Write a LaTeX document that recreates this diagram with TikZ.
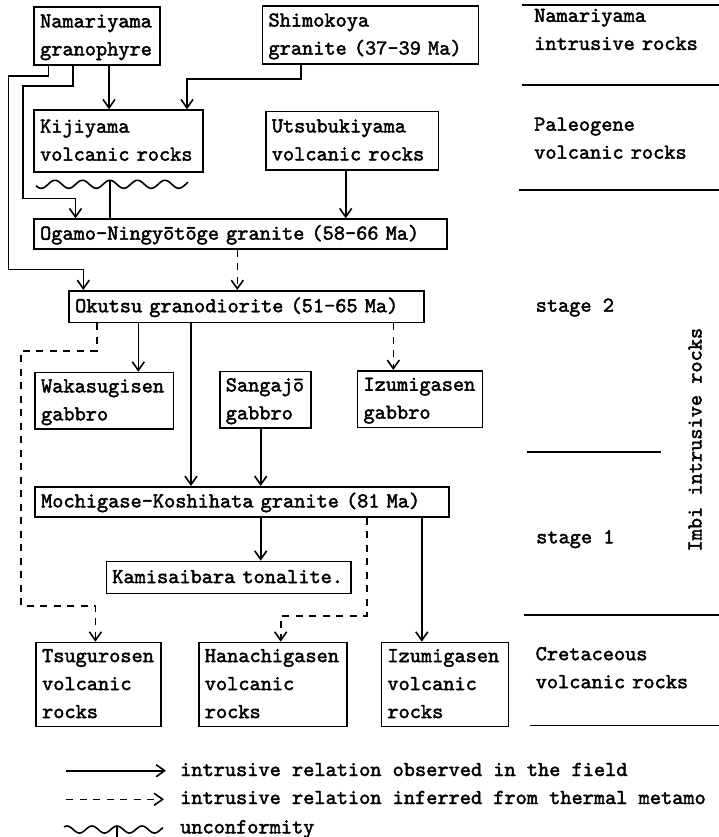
\documentclass[tikz,border=0pt]{standalone}
\usepackage{fontspec}
\usetikzlibrary{arrows.meta}
\newfontfamily\tw{lmmono10-regular.otf}[FakeBold=2]
\newcommand\R[1]{\mbox{\strut#1}}
\begin{document}
\begin{tikzpicture}[x=1pt,y=-1pt,
  font=\tw\fontsize{21.3pt}{28pt}\selectfont,
  bx/.style={draw, line width=1.6pt, anchor=north west, inner xsep=6pt, inner ysep=0pt, align=left},
  ln/.style={line width=1.6pt},
  arr/.style={line width=1.6pt, -{Straight Barb[length=8.5pt,width=12pt,line width=1.6pt]}},
  dsh/.style={arr, dash pattern=on 7pt off 6.5pt},
  lbl/.style={anchor=north west, inner sep=0pt, align=left, text width=200pt},
  txt/.style={anchor=base west, inner sep=0pt}]
\useasboundingbox (0,0) rectangle (719,837);

% boxes
\node[bx, minimum height=58pt, text width=114pt] (nam) at (33.3,6) {\R{Namariyama}\\\R{granophyre}};
\node[bx, minimum height=58.3pt, text width=204pt] (shi) at (261.7,5) {\R{Shimokoya}\\\R{granite (37-39 Ma)}};
\node[bx, minimum height=62pt, text width=157pt] (kij) at (33.3,109.3) {\R{Kijiyama}\\\R{volcanic rocks}};
\node[bx, minimum height=58.6pt, text width=160.7pt] (uts) at (265,110.7) {\R{Utsubukiyama}\\\R{volcanic rocks}};
\node[bx, minimum height=30pt, text width=400.7pt] (oga) at (33.3,218.3) {\R{Ogamo-Ningyōtōge granite (58-66 Ma)}};
\node[bx, minimum height=31.7pt, text width=343pt] (oku) at (68.3,290) {\R{Okutsu granodiorite (51-65 Ma)}};
\node[bx, minimum height=56.6pt, text width=126.4pt] (wak) at (34.3,371.7) {\R{Wakasugisen}\\\R{gabbro}};
\node[bx, minimum height=56.6pt, text width=79pt] (san) at (219,370.7) {\R{Sangajō}\\\R{gabbro}};
\node[bx, minimum height=56.7pt, text width=113pt] (izg) at (356.7,370) {\R{Izumigasen}\\\R{gabbro}};
\node[bx, minimum height=30pt, text width=402pt] (moc) at (34.3,486) {\R{Mochigase-Koshihata granite (81 Ma)}};
\node[bx, minimum height=32pt, text width=232.5pt] (kam) at (105.5,560.7) {\R{Kamisaibara tonalite.}};
\node[bx, minimum height=84pt, text width=112.7pt] (tsu) at (35.3,641.7) {\R{Tsugurosen}\\\R{volcanic}\\\R{rocks}};
\node[bx, minimum height=84pt, text width=136.3pt] (han) at (198,641.7) {\R{Hanachigasen}\\\R{volcanic}\\\R{rocks}};
\node[bx, minimum height=84pt, text width=115pt] (izv) at (380.6,641.7) {\R{Izumigasen}\\\R{volcanic}\\\R{rocks}};

% unconformity
\draw[ln] plot[domain=36:188, samples=150, smooth] (\x,{184.3-4*cos((\x-110)/27.5*360)});
\coordinate (unc) at (110,180.3);
\draw[ln] (unc) -- (oga.north -| unc);

% connectors
\draw[arr] (nam.south -| 109,0) -- (kij.north -| 109,0);
\draw[arr] (shi.south -| 301,0) |- (187,79) -- (kij.north -| 187,0);
\draw[arr] (nam.south -| 48.3,0) |- (8.3,76) |- (83.3,269.3) -- (oku.north -| 83.3,0);
\draw[arr] (nam.south -| 72.7,0) |- (22.7,86) |- (75.5,198.5) -- (oga.north -| 75.5,0);
\draw[arr] (uts.south -| 345.7,0) -- (oga.north -| 345.7,0);
\draw[dsh] (oga.south -| 237.3,0) -- (oku.north -| 237.3,0);
\draw[arr] (oku.south -| 138.3,0) -- (wak.north -| 138.3,0);
\draw[arr] (oku.south -| 191,0) -- (moc.north -| 191,0);
\draw[dsh] (oku.south -| 393.3,0) -- (izg.north -| 393.3,0);
\draw[dsh] (oku.south -| 96.7,0) |- (20.7,351) |- (95.4,605.7) -- (tsu.north -| 95.4,0);
\draw[arr] (san.south -| 260.7,0) -- (moc.north -| 260.7,0);
\draw[arr] (moc.south -| 260.7,0) -- (kam.north -| 260.7,0);
\draw[dsh] (moc.south -| 366.7,0) |- (280.7,615.7) -- (han.north -| 280.7,0);
\draw[arr] (moc.south -| 421.8,0) -- (izv.north -| 421.8,0);

% right column
\draw[ln] (521.7,5) -- (719,5);
\draw[ln] (521.7,85) -- (719,85);
\draw[ln] (519,190) -- (719,190);
\draw[ln] (526.7,452) -- (661,452);
\draw[ln] (523.5,615) -- (719,615);
\draw[ln] (530,725.5) -- (719,725.5);
\node[lbl] (tnam) at (534,2.1) {\R{Namariyama}\\\R{intrusive rocks}};
\node[lbl] (tpal) at (534,110.9) {\R{Paleogene}\\\R{volcanic rocks}};
\node[txt] (st2) at (535.5,311.7) {stage 2};
\node[txt] (st1) at (536,543.3) {stage 1};
\node[lbl] (tcre) at (535.5,640.4) {\R{Cretaceous}\\\R{volcanic rocks}};
\node[txt, rotate=90] (imbi) at (701.5,551.7) {Imbi intrusive rocks};

% legend
\coordinate (l1a) at (66,770.7); \coordinate (l1b) at (166,770.7);
\coordinate (l2a) at (66,799.3); \coordinate (l2b) at (164,799.3);
\draw[arr] (l1a) -- (l1b);
\draw[dsh] (l2a) -- (l2b);
\node[txt] (t1) at (180,776) {intrusive relation observed in the field};
\node[txt] (t2) at (180,804) {intrusive relation inferred from thermal metamo};
\draw[ln] plot[domain=64:163, samples=100, smooth] (\x,{829.5-3.5*cos((\x-117)/25*360)});
\coordinate (l3) at (117,826);
\draw[ln] (l3) -- (117,842);
\node[txt] (t3) at (180,833.3) {unconformity};
\end{tikzpicture}
\end{document}
